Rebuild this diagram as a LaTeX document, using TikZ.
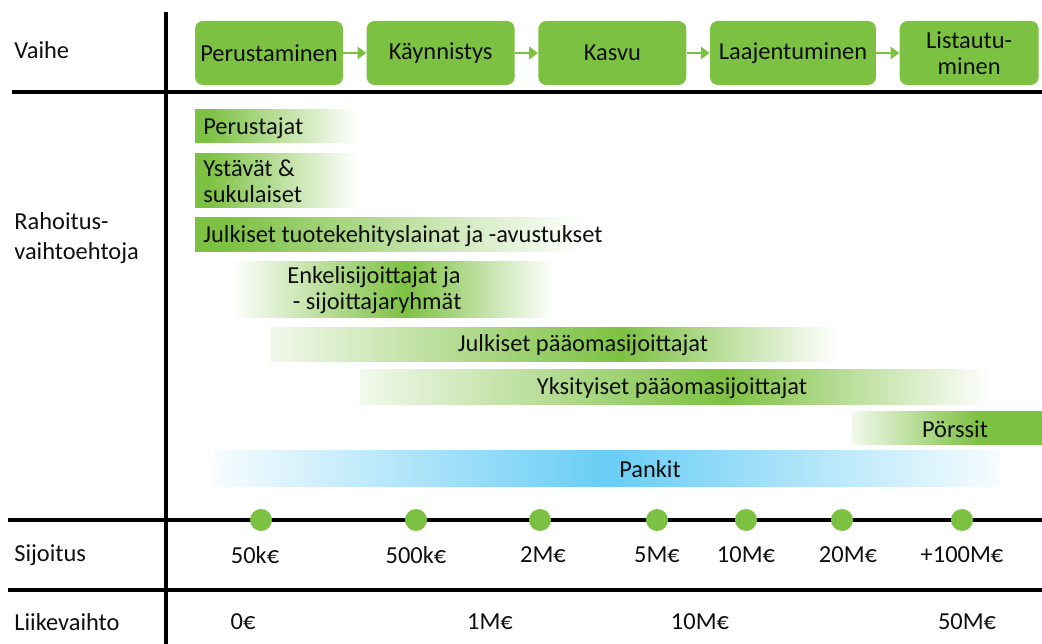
\documentclass[tikz,border=0pt]{standalone}
\usepackage{fontspec}
\setmainfont{Carlito}
\usetikzlibrary{positioning,arrows.meta}

\definecolor{phasegreen}{RGB}{125,193,66}
\definecolor{bankblue}{RGB}{104,205,245}
\definecolor{inktext}{RGB}{15,15,15}

% shadings: the box is mapped on 25bp..75bp
\pgfdeclarehorizontalshading{fadeout}{100bp}{color(0bp)=(phasegreen); color(29bp)=(phasegreen); color(75bp)=(white); color(100bp)=(white)}
\pgfdeclarehorizontalshading{fadein}{100bp}{color(0bp)=(white); color(25bp)=(white!90!phasegreen); color(58bp)=(phasegreen); color(100bp)=(phasegreen)}
\pgfdeclarehorizontalshading{angelpeak}{100bp}{color(0bp)=(white); color(25bp)=(white); color(52bp)=(phasegreen); color(75bp)=(white); color(100bp)=(white)}
\pgfdeclarehorizontalshading{publicpeak}{100bp}{color(0bp)=(white); color(25bp)=(white!90!phasegreen); color(56bp)=(phasegreen); color(75bp)=(white); color(100bp)=(white)}
\pgfdeclarehorizontalshading{privatepeak}{100bp}{color(0bp)=(white); color(25bp)=(white!90!phasegreen); color(54bp)=(phasegreen); color(75bp)=(white); color(100bp)=(white)}
\pgfdeclarehorizontalshading{bankpeak}{100bp}{color(0bp)=(white); color(25bp)=(white!94!bankblue); color(50bp)=(bankblue); color(75bp)=(white!94!bankblue); color(100bp)=(white)}

\tikzset{
  every node/.style={font=\fontsize{13.9}{15}\selectfont, text=inktext},
  phase/.style={fill=phasegreen, rounded corners=4.5pt, minimum height=1.28cm,
                minimum width=2.96cm, align=center, inner sep=0pt},
  flow/.style={phasegreen, line width=1.6pt, -{Triangle[length=5pt,width=7pt]}},
  rule/.style={line width=2.2pt},
  tag/.style={inner sep=0pt, anchor=west, align=left},
  dot/.style={circle, fill=phasegreen, minimum size=0.44cm, inner sep=0pt},
}

\begin{document}
\begin{tikzpicture}[x=0.02cm, y=-0.02cm]
  \def\Xl{14};
  \def\Xbar{203};
  \def\Ytop{92};
  \def\Yinv{520};
  \def\Yrev{590};
  \useasboundingbox (0,0) rectangle (1042,644);

	% table rules
	\draw [rule] (166,12) -- (166,644);
	\draw [line width=1.8pt] (12,\Ytop) -- (1042,\Ytop);
	\draw [rule] (8,\Yinv) -- (1042,\Yinv);
	\draw [rule] (8,\Yrev) -- (1042,\Yrev);

	% row labels
	\node (vaihe) [tag] at (\Xl, 50) {Vaihe};
	\node (rahoitus) [tag] at (\Xl, 238) {Rahoitus-\\[2pt]vaihtoehtoja};
	\node (sijoitus) [tag] at (\Xl, 555) {Sijoitus};
	\node (liikevaihto) [tag] at (\Xl, 622) {Liikevaihto};

	% phases
	\node (perustaminen) [phase] at (269, 53) {Perustaminen};
	\node (kaynnistys) [phase, right=0.46cm of perustaminen] {Käynnistys};
	\node (kasvu) [phase, right=0.46cm of kaynnistys] {Kasvu};
	\node (laajentuminen) [phase, right=0.46cm of kasvu, minimum width=3.32cm] {Laajentuminen};
	\node (listautuminen) [phase, right=0.46cm of laajentuminen, minimum width=2.78cm] {Listautu-\\minen};

	% arrows
	\draw [flow] (perustaminen) -- (kaynnistys);
	\draw [flow] (kaynnistys) -- (kasvu);
	\draw [flow] (kasvu) -- (laajentuminen);
	\draw [flow] (laajentuminen) -- (listautuminen);

	% bars
	\shade [shading=fadeout] (195,110) rectangle (357,143);
	\shade [shading=fadeout] (195,154) rectangle (357,208);
	\shade [shading=fadeout] (195,218) rectangle (582,252);
	\shade [shading=angelpeak] (232,262) rectangle (553,318);
	\shade [shading=publicpeak] (270,328) rectangle (836,362);
	\shade [shading=privatepeak] (360,370) rectangle (990,405);
	\shade [shading=fadein] (852,412) rectangle (1042,445);
	\shade [shading=bankpeak] (215,451) rectangle (1000,487);

	% bar labels
	\node (perustajat) [tag] at (\Xbar, 128) {Perustajat};
	\node (ystavat) [tag] at (\Xbar, 181) {Ystävät \&\\sukulaiset};
	\node (julkisetlainat) [tag] at (\Xbar, 236) {Julkiset tuotekehityslainat ja -avustukset};
	\node (enkelit) [tag] at (287, 290) {Enkelisijoittajat ja\\\ - sijoittajaryhmät};
	\node (julkisetpaaoma) at (583, 345) {Julkiset pääomasijoittajat};
	\node (yksityiset) at (672, 388) {Yksityiset pääomasijoittajat};
	\node (porssit) at (955, 429) {Pörssit};
	\node (pankit) at (650, 469) {Pankit};

	% dots
	\node (d50k) [dot] at (261, \Yinv) {};
	\node (d500k) [dot] at (416, \Yinv) {};
	\node (d2m) [dot] at (540, \Yinv) {};
	\node (d5m) [dot] at (657, \Yinv) {};
	\node (d10m) [dot] at (746, \Yinv) {};
	\node (d20m) [dot] at (842, \Yinv) {};
	\node (d100m) [dot] at (962, \Yinv) {};

	% amounts
	\node (s50k) at (255, 555) {50k€};
	\node (s500k) at (416, 555) {500k€};
	\node (s2m) at (543, 555) {2M€};
	\node (s5m) at (657, 555) {5M€};
	\node (s10m) at (746, 555) {10M€};
	\node (s20m) at (848, 555) {20M€};
	\node (s100m) at (962, 555) {+100M€};
	\node (l0) at (243, 622) {0€};
	\node (l1m) at (490, 622) {1M€};
	\node (l10m) at (700, 622) {10M€};
	\node (l50m) at (967, 622) {50M€};

\end{tikzpicture}
\end{document}
